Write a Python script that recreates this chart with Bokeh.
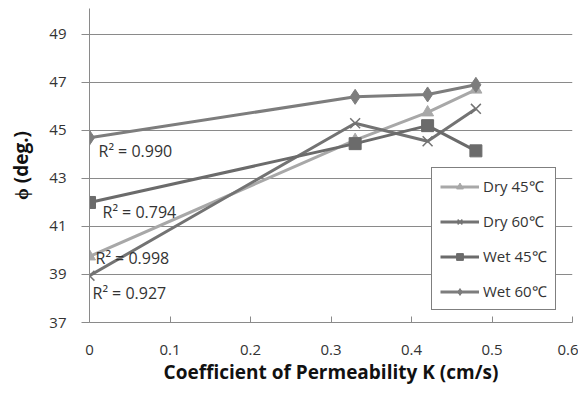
from bokeh.plotting import figure
from bokeh.models import ColumnDataSource, FixedTicker, Range1d, Legend
from bokeh.embed import file_html
from bokeh.resources import INLINE
from bokeh.core.properties import value

# ---- data ----
k = [0.0, 0.33, 0.42, 0.48]
dry45 = [39.75, 44.6, 45.75, 46.7]
dry60 = [38.95, 45.3, 44.55, 45.9]
wet45 = [42.0, 44.45, 45.2, 44.15]
wet60 = [44.7, 46.4, 46.5, 46.9]
series_names = ["Dry 45℃", "Dry 60℃", "Wet 45℃", "Wet 60℃"]
r2_labels = ["R² = 0.998", "R² = 0.927", "R² = 0.794", "R² = 0.990"]
y_ticks = [37, 39, 41, 43, 45, 47, 49]
x_ticks = [0, 0.1, 0.2, 0.3, 0.4, 0.5, 0.6]

FONT = "Open Sans"

p = figure(width=578, height=387, output_backend="svg", toolbar_location=None,
           x_range=Range1d(0, 0.6), y_range=Range1d(37, 50.08),
           min_border_left=89, min_border_right=6, min_border_top=8, min_border_bottom=65)
p.outline_line_color = None
p.background_fill_color = "white"

# grid
p.xgrid.grid_line_color = None
p.ygrid.grid_line_color = "#8a8a8a"
p.ygrid.grid_line_width = 1
p.yaxis.ticker = FixedTicker(ticks=y_ticks)
p.xaxis.ticker = FixedTicker(ticks=x_ticks)
p.xaxis.major_label_overrides = {0: "0"}

for ax in (p.xaxis[0], p.yaxis[0]):
    ax.axis_line_color = "#8a8a8a"
    ax.major_tick_line_color = "#8a8a8a"
    ax.minor_tick_line_color = None
    ax.major_label_text_font = FONT
    ax.major_label_text_font_size = "15px"
    ax.major_label_text_color = "#333333"
    ax.axis_label_text_font = FONT
    ax.axis_label_text_font_style = "bold"
    ax.axis_label_text_font_size = "19px"
    ax.axis_label_text_color = "#111111"

p.yaxis.major_tick_out = 8
p.yaxis.major_tick_in = 0
p.yaxis.major_label_standoff = 15
p.yaxis.axis_label = "ϕ (deg.)"
p.yaxis.axis_label_standoff = 12

p.xaxis.major_tick_out = 0
p.xaxis.major_tick_in = 6
p.xaxis.major_label_standoff = 22
p.xaxis.axis_label = "Coefficient of Permeability K (cm/s)"
p.xaxis.axis_label_standoff = 1

colors = ["#a8a8a8", "#737373", "#6b6b6b", "#7d7d7d"]
markers = ["triangle", "x", "square", "diamond"]
sizes = [12, 14, 12, 15]
data = [dry45, dry60, wet45, wet60]

items = []
for name, ys, c, m, s in zip(series_names, data, colors, markers, sizes):
    src = ColumnDataSource(dict(x=k, y=ys))
    ln = p.line("x", "y", source=src, line_color=c, line_width=3)
    if m == "x":
        sc = p.scatter("x", "y", source=src, marker=m, size=s, line_color=c, line_width=1.5)
    else:
        sc = p.scatter("x", "y", source=src, marker=m, size=s, fill_color=c, line_color=c)
    items.append((name, [ln, sc]))

# R^2 annotations beside the first point of each series
lab_src = ColumnDataSource(dict(
    x=[k[0]] * 4,
    y=[d[0] for d in data],
    t=r2_labels,
    xo=[6, 3, 13, 9],
    yo=[2, 17, 10, 13],
))
p.text("x", "y", text="t", source=lab_src, x_offset="xo", y_offset="yo",
       text_font=value(FONT), text_font_size="16px", text_color="#333333",
       text_align="left", text_baseline="middle")

legend = Legend(items=items, location=(342, 12))
legend.border_line_color = "black"
legend.border_line_width = 1
legend.background_fill_color = "white"
legend.background_fill_alpha = 1
legend.label_text_font = FONT
legend.label_text_font_size = "15px"
legend.label_text_color = "#333333"
legend.glyph_width = 39
legend.glyph_height = 17
legend.label_height = 17
legend.spacing = 15
legend.padding = 8
legend.label_standoff = 4
legend.margin = 0
p.add_layout(legend)

open("out.html", "w").write(file_html(p, INLINE))
